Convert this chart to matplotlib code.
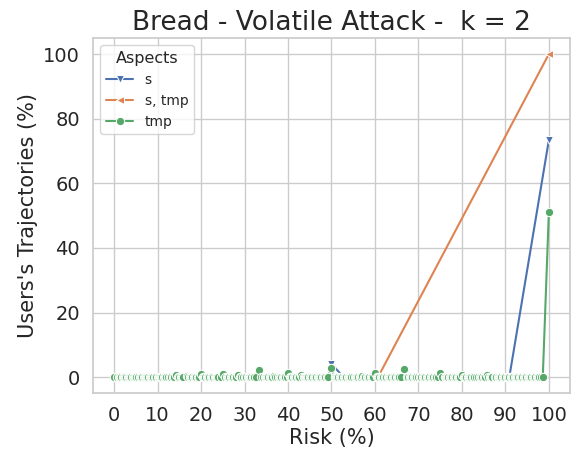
import numpy as np
import matplotlib
matplotlib.use("Agg")
import matplotlib.pyplot as plt
import seaborn as sns

## DATA

# risk values (%) observed for the attack, shared by the three aspect sets
risk = [0.0, 0.6, 1.1, 1.4, 1.7, 2.0, 2.3, 2.6, 2.8, 3.1, 3.4, 3.7, 4.0, 4.3, 4.5, 4.8,
        5.1, 5.4, 5.6, 5.9, 6.2, 6.5, 6.8, 7.0, 7.3, 7.6, 7.9, 8.2, 8.5, 8.7, 9.0, 9.3, 9.6,
        10.0, 10.3, 10.6, 10.9, 11.1, 11.4, 11.7, 12.0, 12.5, 12.9, 13.2, 13.5, 13.8, 14.3,
        14.7, 15.0, 15.3, 15.6, 15.9, 16.7, 17.1, 17.4, 17.7, 18.0, 18.3, 18.6, 18.9, 19.2, 19.6,
        20.0, 20.4, 20.7, 21.0, 21.3, 21.6, 21.9, 22.2, 22.5, 22.8, 23.1, 23.4, 23.7, 24.0,
        24.5, 25.0, 25.5, 25.9, 26.2, 26.5, 26.8, 27.1, 27.4, 27.7, 28.0, 28.6, 29.0, 29.3, 29.6,
        30.0, 30.4, 30.7, 31.0, 31.3, 31.6, 31.9, 32.2, 32.7, 33.3, 33.9, 34.3, 34.6, 34.9,
        35.2, 35.5, 35.8, 36.1, 36.4, 36.7, 37.0, 37.5, 37.9, 38.2, 38.5, 38.8, 39.1, 39.4, 39.7,
        40.0, 40.4, 40.7, 41.0, 41.3, 41.6, 41.9, 42.2, 42.5, 42.9, 43.3, 43.6, 43.9, 44.2,
        44.4, 44.7, 45.0, 45.3, 45.6, 45.9, 46.2, 46.5, 46.8, 47.1, 47.4, 47.7, 48.0, 48.3,
        48.6, 48.9, 49.3, 50.0, 50.7, 51.0, 51.3, 51.6, 51.9, 52.2, 52.5, 52.8, 53.1, 53.4,
        53.7, 54.0, 54.3, 54.6, 55.0, 55.3, 55.6, 55.9, 56.2, 56.5, 56.8, 57.1, 57.5, 57.8,
        58.1, 58.4, 58.7, 59.0, 59.3, 59.6, 60.0, 60.4, 60.7, 61.0, 61.3, 61.6, 61.9, 62.2,
        62.5, 62.9, 63.2, 63.5, 63.8, 64.1, 64.4, 64.7, 65.0, 65.3, 65.6, 66.0, 66.7, 67.3,
        67.7, 68.0, 68.3, 68.6, 68.9, 69.2, 69.5, 69.8, 70.0, 70.4, 70.7, 71.0, 71.3, 71.6,
        71.9, 72.2, 72.5, 72.8, 73.1, 73.4, 73.7, 74.0, 74.5, 75.0, 75.5, 76.0, 76.3, 76.6,
        76.9, 77.2, 77.5, 77.8, 78.1, 78.4, 78.7, 79.0, 79.3, 79.6, 80.0, 80.4, 80.7, 81.0,
        81.3, 81.6, 81.9, 82.2, 82.5, 82.8, 83.3, 83.8, 84.1, 84.4, 84.7, 85.0, 85.3, 85.7,
        86.1, 86.4, 86.7, 87.0, 87.5, 87.9, 88.2, 88.5, 88.8, 89.1, 89.4, 89.7, 90.0, 90.3,
        90.6, 90.9, 91.2, 91.5, 91.8, 92.1, 92.4, 92.7, 93.0, 93.3, 93.6, 93.9, 94.2, 94.5,
        94.8, 95.1, 95.4, 95.7, 96.0, 96.3, 96.6, 96.9, 97.2, 97.5, 97.8, 98.1, 98.6, 100.0]

aspects = ['s', 's, tmp', 'tmp']

# share of trajectories (%) at each risk, only the non-zero values are listed
s_users = {50.0: 4.1, 100.0: 73.4}
s_tmp_users = {100.0: 100.0}
tmp_users = {14.3: 0.6, 16.7: 0.4, 20.0: 1.0, 25.0: 1.0, 28.6: 0.6, 33.3: 2.1,
             36.7: 0.4, 40.0: 1.4, 42.9: 0.7, 50.0: 2.8, 57.1: 0.4, 60.0: 1.2,
             66.7: 2.5, 75.0: 1.4, 76.7: 0.4, 80.0: 0.8, 85.7: 0.6, 100.0: 51.2}

# risk values that each aspect set actually reaches
s_risk = [r for r in risk if (r <= 90.9 and not 50.0 < r < 52.8) or r == 100.0]
s_tmp_risk = [r for r in risk if r <= 60.7 or r == 100.0]
tmp_risk = [r for r in risk]

series = [(s_risk, s_users), (s_tmp_risk, s_tmp_users), (tmp_risk, tmp_users)]
markers = ['v', '<', 'o']


## PLOT

sns.set_theme(style='whitegrid')
plt.rcParams['font.family'] = ['DejaVu Sans']
colors = sns.color_palette('deep')

fig = plt.figure(figsize=(5.79, 4.55), dpi=100)
ax = fig.add_axes([0.161, 0.137, 0.823, 0.779])

for i, (xs, vals) in enumerate(series):
    ys = [vals.get(r, 0.0) for r in xs]
    ax.plot(xs, ys, color=colors[i], marker=markers[i], markersize=6,
            markeredgecolor='w', markeredgewidth=0.75, linewidth=1.5,
            label=aspects[i])

ax.set_xticks(np.arange(0, 101, 10))
ax.set_yticks(np.arange(0, 101, 20))
ax.set_xlim(-4.8, 104.8)
ax.set_ylim(-4.8, 104.9)
ax.tick_params(labelsize=14)
ax.set_xlabel('Risk (%)', fontsize=15, labelpad=2)
ax.set_ylabel("Users's Trajectories (%)", fontsize=15)
ax.set_title('Bread - Volatile Attack -  k = 2', fontsize=19)

leg = ax.legend(title='Aspects', loc='upper left', fontsize=10, title_fontsize=11.5,
                handlelength=2.0)

fig.savefig('out.png', dpi=100)
